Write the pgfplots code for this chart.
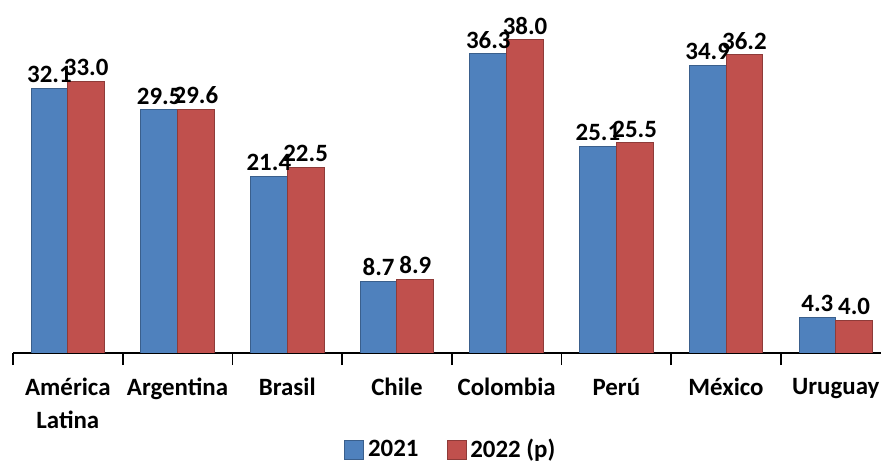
\documentclass[border=0pt]{standalone}
\usepackage{pgfplots}
\pgfplotsset{compat=1.18}
\usepackage{fontspec}
\setmainfont{Carlito}
\definecolor{serieA}{HTML}{4F81BD}
\definecolor{serieB}{HTML}{C0504D}
\definecolor{bordeA}{HTML}{3A5F8C}
\definecolor{bordeB}{HTML}{8E3B39}
\begin{document}
\begin{tikzpicture}
\begin{axis}[
    scale only axis,
    width=438.8bp, height=164.8bp,
    xmin=-0.5, xmax=7.5,
    ymin=0, ymax=40,
    hide y axis,
    axis x line*=bottom,
    x axis line style={line width=0.8bp, -},
    xtick={0,1,2,3,4,5,6,7},
    xticklabels={Am\'erica\\Latina,Argentina,Brasil,Chile,Colombia,Per\'u,M\'exico,Uruguay},
    major tick length=0pt,
    minor xtick={-0.5,0.5,1.5,2.5,3.5,4.5,5.5,6.5,7.5},
    minor tick length=6bp,
    tick align=outside,
    minor tick style={line width=0.8bp, black},
    xticklabel style={font=\fontsize{12.5}{16.5}\selectfont\bfseries, align=center, anchor=north, yshift=-9bp},
    ybar, bar width=0.335,
    nodes near coords,
    every node near coord/.append style={font=\fontsize{12.5}{14}\selectfont\bfseries, black, inner sep=2.5bp},
    /pgf/number format/assume math mode=true,
    /pgf/number format/.cd, fixed, fixed zerofill, precision=1, /pgfplots/.cd,
    legend columns=2,
    legend style={at={(0.5,0)}, anchor=center, yshift=-48.5bp, draw=none,
        font=\fontsize{12.5}{14}\selectfont\bfseries,
        /tikz/every even column/.append style={column sep=12bp}},
    legend image code/.code={\draw[#1, line width=0.4bp] (0bp,-4.75bp) rectangle (9.5bp,4.75bp);},
]
\addplot[fill=serieA, draw=bordeA, line width=0.5bp, bar shift=-0.1675] coordinates {
    (0,32.1) (1,29.5) (2,21.4) (3,8.7) (4,36.3) (5,25.1) (6,34.9) (7,4.3)};
\addplot[fill=serieB, draw=bordeB, line width=0.5bp, bar shift=0.1675] coordinates {
    (0,33.0) (1,29.6) (2,22.5) (3,8.9) (4,38.0) (5,25.5) (6,36.2) (7,4.0)};
\legend{2021,2022 (p)}
\end{axis}
\pgfresetboundingbox
\path[use as bounding box] (-6.5bp,-55bp) rectangle (434bp,176.5bp);
\end{tikzpicture}
\end{document}
